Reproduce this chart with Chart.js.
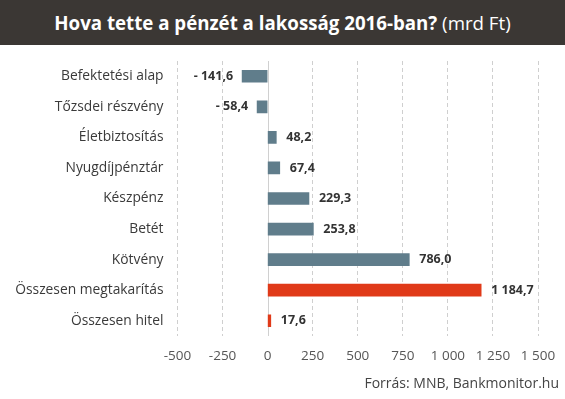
<!DOCTYPE html>
<html>
<head>
<meta charset="utf-8">
<script src="https://cdn.jsdelivr.net/npm/chart.js@4/dist/chart.umd.min.js"></script>
<style>
  html, body { margin: 0; padding: 0; background: #fff; }
  body { width: 565px; height: 399px; position: relative; overflow: hidden; font-family: "Open Sans", sans-serif; }
  #titlebar { position: absolute; left: 0; top: 0; width: 565px; height: 45px; background: #3b3734; color: #fff;
    font-size: 18.7px; line-height: 45px; text-align: center; }
  #titlebar b { font-weight: 700; }
  #wrap { position: absolute; left: 0; top: 45px; width: 565px; height: 354px; }
  #source { position: absolute; right: 6px; top: 373px; font-size: 14px; color: #444; }
</style>
</head>
<body>
<div id="titlebar"><b>Hova tette a pénzét a lakosság 2016-ban?</b> (mrd Ft)</div>
<div id="wrap"><canvas id="c"></canvas></div>
<div id="source">Forrás: MNB, Bankmonitor.hu</div>
<script>
const categories = ["Befektetési alap", "Tőzsdei részvény", "Életbiztosítás", "Nyugdíjpénztár", "Készpénz", "Betét", "Kötvény", "Összesen megtakarítás", "Összesen hitel"];
const values = [-141.6, -58.4, 48.2, 67.4, 229.3, 253.8, 786.0, 1184.7, 17.6];
const barColors = ["#607d8b", "#607d8b", "#607d8b", "#607d8b", "#607d8b", "#607d8b", "#607d8b", "#e03a19", "#e03a19"];
const xTicks = [-500, -250, 0, 250, 500, 750, 1000, 1250, 1500];

function fmtThousands(n) {
  const s = Math.abs(n).toString();
  const r = s.replace(/\B(?=(\d{3})+(?!\d))/g, " ");
  return (n < 0 ? "-" : "") + r;
}
function fmtValue(v) {
  const a = Math.abs(v).toFixed(1).split(".");
  const intPart = a[0].replace(/\B(?=(\d{3})+(?!\d))/g, " ");
  return (v < 0 ? "- " : "") + intPart + "," + a[1];
}

const valueLabels = {
  id: "valueLabels",
  afterDatasetsDraw(chart) {
    const ctx = chart.ctx;
    const meta = chart.getDatasetMeta(0);
    ctx.save();
    ctx.font = "bold 12.5px 'Open Sans', sans-serif";
    ctx.fillStyle = "#333";
    ctx.textBaseline = "middle";
    meta.data.forEach((bar, i) => {
      const v = values[i];
      if (v < 0) {
        ctx.textAlign = "right";
        ctx.fillText(fmtValue(v), bar.x - 9, bar.y);
      } else {
        ctx.textAlign = "left";
        ctx.fillText(fmtValue(v), bar.x + 10, bar.y);
      }
    });
    ctx.restore();
  }
};

const zeroLine = {
  id: "zeroLine",
  beforeDatasetsDraw(chart) {
    const x = chart.scales.x.getPixelForValue(0);
    const a = chart.chartArea;
    const ctx = chart.ctx;
    ctx.save();
    ctx.strokeStyle = "#d0d0d0";
    ctx.lineWidth = 1;
    ctx.setLineDash([]);
    ctx.fillStyle = "#fff";
    ctx.fillRect(Math.round(x) - 2, a.top - 1, 4, a.bottom - a.top + 2);
    ctx.beginPath();
    ctx.moveTo(Math.round(x) + 0.5, a.top);
    ctx.lineTo(Math.round(x) + 0.5, a.bottom);
    ctx.stroke();
    ctx.restore();
  }
};

new Chart(document.getElementById("c"), {
  type: "bar",
  data: {
    labels: categories,
    datasets: [{ data: values, backgroundColor: barColors, barThickness: 12 }]
  },
  options: {
    indexAxis: "y",
    responsive: true,
    maintainAspectRatio: false,
    animation: false,
    layout: { padding: { left: 0, right: 27, top: 16, bottom: 33 } },
    plugins: { legend: { display: false }, tooltip: { enabled: false }, title: { display: false } },
    scales: {
      x: {
        min: -500, max: 1500,
        afterBuildTicks(scale) { scale.ticks = xTicks.map(v => ({ value: v })); },
        afterFit(scale) { scale.height = 30; scale.paddingLeft = 0; scale.paddingRight = 0; },
        border: { display: false, dash: [4, 3] },
        grid: { drawTicks: false, color: "#cfcfcf", lineWidth: 1 },
        ticks: {
          padding: 12,
          color: "#555",
          font: { family: "'Open Sans', sans-serif", size: 13.5 },
          callback: v => fmtThousands(v)
        }
      },
      y: {
        afterFit(scale) { scale.width = 177.5; scale.paddingTop = 0; scale.paddingBottom = 0; },
        border: { display: false },
        grid: { display: false, drawTicks: false },
        ticks: {
          padding: 14,
          color: "#3a3a3a",
          font: { family: "'Open Sans', sans-serif", size: 13.8 }
        }
      }
    }
  },
  plugins: [zeroLine, valueLabels]
});
</script>
</body>
</html>
